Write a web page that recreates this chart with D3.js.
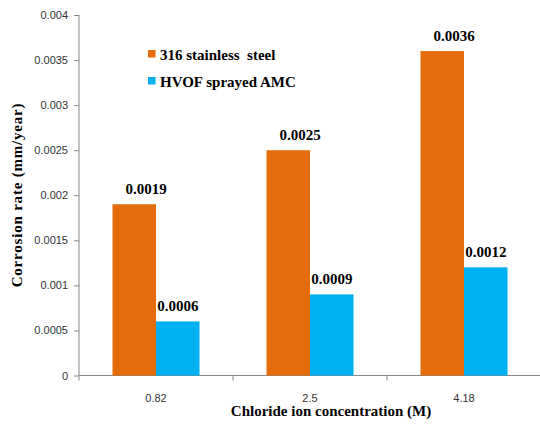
<!DOCTYPE html>
<html>
<head>
<meta charset="utf-8">
<script src="https://cdn.jsdelivr.net/npm/d3@7"></script>
<style>
  body { margin: 0; background: #fff; }
  .tick text { font-family: "Liberation Sans", Arial, sans-serif; font-size: 11px; fill: #333; }
  .domain, .tick line { stroke: #868686; }
  .lbl { font-family: "Liberation Serif", "Times New Roman", serif; font-weight: bold; font-size: 15px; fill: #000; }
</style>
</head>
<body>
<svg id="chart" width="540" height="427"></svg>
<script>
// data
var categories = ["0.82", "2.5", "4.18"];
var seriesNames = ["316 stainless  steel", "HVOF sprayed AMC"];
var steel = [0.0019, 0.0025, 0.0036];
var amc = [0.0006, 0.0009, 0.0012];
var yTicks = [0, 0.0005, 0.001, 0.0015, 0.002, 0.0025, 0.003, 0.0035, 0.004];
var colors = ["#E46C0A", "#00B0F0"];

var svg = d3.select("#chart");
var plotLeft = 79, plotRight = 541, plotTop = 15, plotBottom = 375.5;

var x0 = d3.scaleBand().domain(categories).range([plotLeft, plotRight]).paddingInner(0.435).paddingOuter(0.2175);
var x1 = d3.scaleBand().domain([0, 1]).range([0, x0.bandwidth()]);
var y = d3.scaleLinear().domain([0, 0.004]).range([plotBottom, plotTop]);

// x axis, ticks on category borders
var xAxis = svg.append("g").attr("transform", "translate(0," + plotBottom + ")");
xAxis.append("line").attr("x1", plotLeft).attr("x2", 540).attr("y1", 0).attr("y2", 0).style("stroke", "#868686");
var step = x0.step();
for (var i = 0; i <= categories.length; i++) {
    xAxis.append("line").style("stroke", "#868686")
        .attr("x1", plotLeft + i * step).attr("x2", plotLeft + i * step).attr("y1", 0).attr("y2", 5);
}
xAxis.selectAll(".xl").data(categories).enter().append("text")
    .attr("class", "xl")
    .attr("x", function(d) { return x0(d) + x0.bandwidth() / 2; })
    .attr("y", 26)
    .attr("text-anchor", "middle")
    .style("font-family", "Liberation Sans, Arial, sans-serif").style("font-size", "11px").style("fill", "#333")
    .text(function(d) { return d; });

// y axis
svg.append("g").attr("transform", "translate(" + plotLeft + ",0)")
    .call(d3.axisLeft(y).tickValues(yTicks).tickSize(5).tickPadding(6)
        .tickFormat(function(d) { return String(+d.toFixed(4)); }))
    .call(function(g) { g.select(".domain").attr("d", "M0," + plotTop + "V" + plotBottom); });

// bars
var series = [steel, amc];
series.forEach(function(vals, s) {
    var g = svg.append("g");
    g.selectAll("rect").data(vals).enter().append("rect")
        .attr("x", function(d, i) { return x0(categories[i]) + x1(s); })
        .attr("y", function(d) { return y(d); })
        .attr("width", x1.bandwidth())
        .attr("height", function(d) { return plotBottom - y(d); })
        .attr("fill", colors[s]);
    g.selectAll("text").data(vals).enter().append("text")
        .attr("class", "lbl")
        .attr("x", function(d, i) { return x0(categories[i]) + x1(s) + x1.bandwidth() / 2 + (s == 0 ? 12 : 0); })
        .attr("y", function(d) { return y(d) - 10; })
        .attr("text-anchor", "middle")
        .text(function(d) { return String(d); });
});

// legend
var leg = svg.append("g").attr("transform", "translate(148,50)");
seriesNames.forEach(function(n, i) {
    leg.append("rect").attr("x", 0).attr("y", i * 27).attr("width", 7.5).attr("height", 7.5).attr("fill", colors[i]);
    leg.append("text").attr("class", "lbl").attr("x", 12).attr("y", i * 27 + 10)
        .style("white-space", "pre").text(n);
});

// axis titles
svg.append("text").attr("class", "lbl")
    .attr("transform", "translate(22,195) rotate(-90)")
    .attr("text-anchor", "middle")
    .style("letter-spacing", "0.8px")
    .text("Corrosion rate (mm/year)");
svg.append("text").attr("class", "lbl")
    .attr("x", 331).attr("y", 416)
    .attr("text-anchor", "middle")
    .text("Chloride ion concentration (M)");
</script>
</body>
</html>
